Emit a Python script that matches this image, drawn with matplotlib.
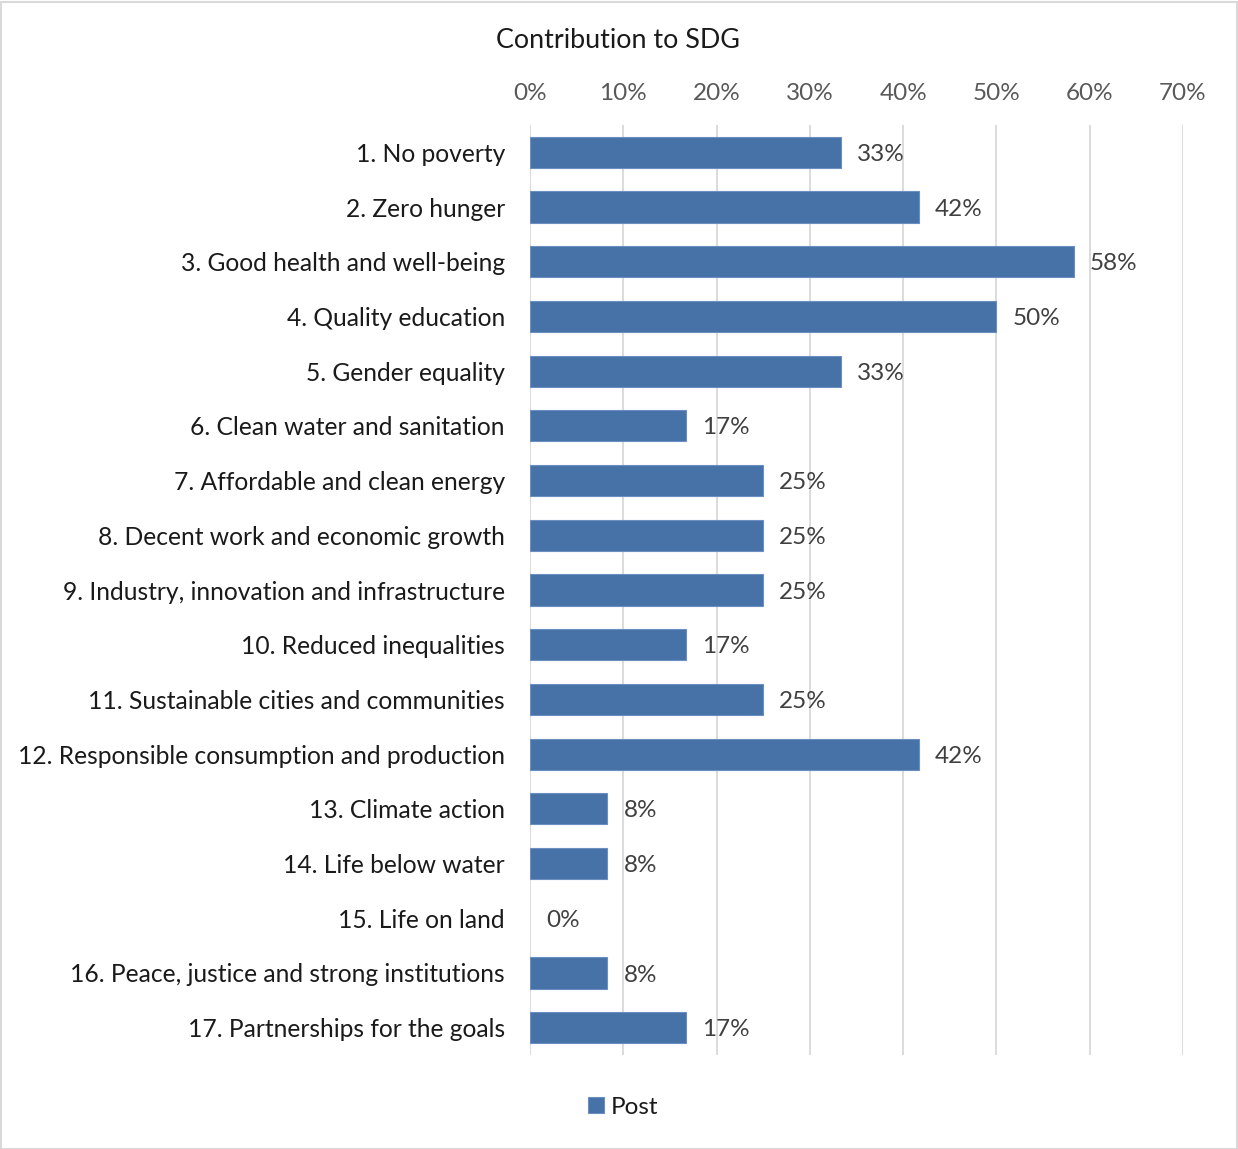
import matplotlib
matplotlib.use("Agg")
import matplotlib.pyplot as plt
from matplotlib.patches import Rectangle
from matplotlib.ticker import FuncFormatter, MultipleLocator

plt.rcParams['font.family'] = ['Lato', 'DejaVu Sans']

goals = [
    "1. No poverty",
    "2. Zero hunger",
    "3. Good health and well-being",
    "4. Quality education",
    "5. Gender equality",
    "6. Clean water and sanitation",
    "7. Affordable and clean energy",
    "8. Decent work and economic growth",
    "9. Industry, innovation and infrastructure",
    "10. Reduced inequalities",
    "11. Sustainable cities and communities",
    "12. Responsible consumption and production",
    "13. Climate action",
    "14. Life below water",
    "15. Life on land",
    "16. Peace, justice and strong institutions",
    "17. Partnerships for the goals",
]
post = [0.333, 0.417, 0.583, 0.500, 0.333, 0.167, 0.250, 0.250, 0.250,
        0.167, 0.250, 0.417, 0.083, 0.083, 0.000, 0.083, 0.167]
series_name = "Post"
title = "Contribution to SDG"

BAR = "#4672a8"
W, H, DPI = 1238, 1149, 100

fig = plt.figure(figsize=(W / DPI, H / DPI), dpi=DPI)
ax = fig.add_axes([530 / W, 1 - 1055 / H, (1183 - 530) / W, (1055 - 125) / H])

ypos = list(range(len(goals)))
bars = ax.barh(ypos, post, height=0.57, color=BAR, edgecolor="#6b8fc0",
               linewidth=[0.8 if v > 0 else 0 for v in post],
               label=series_name, zorder=3)

for y, v in zip(ypos, post):
    ax.annotate(f"{v:.0%}", xy=(v, y), xytext=(11.5, -1.5), textcoords="offset points",
                va="center", ha="left", fontsize=17.5, color="#404040", zorder=4)

ax.set_xlim(0, 0.70)
ax.set_ylim(len(goals) - 0.5, -0.5)
ax.xaxis.set_major_locator(MultipleLocator(0.10))
ax.xaxis.set_major_formatter(FuncFormatter(lambda x, _: f"{x:.0%}"))
ax.xaxis.tick_top()
ax.tick_params(axis="x", length=0, pad=15, labelsize=17.5, labelcolor="#595959")
ax.set_yticks(ypos)
ax.set_yticklabels(goals)
ax.tick_params(axis="y", length=0, pad=18, labelsize=17.7, labelcolor="#1a1a1a")
ax.grid(axis="x", color="#d9d9d9", linewidth=1.3, zorder=0)
for s in ax.spines.values():
    s.set_visible(False)

fig.text(618 / W, 1 - 40 / H, title, ha="center", va="center", fontsize=19.4, color="#1a1a1a")

leg = fig.legend(handles=[bars], labels=[series_name], loc="center",
                 bbox_to_anchor=(623 / W, 1 - 1107 / H), frameon=False,
                 fontsize=17.5, handlelength=0.65, handleheight=0.65, handletextpad=0.3)
for t in leg.get_texts():
    t.set_color("#1a1a1a")

fig.patches.append(Rectangle((0.5 / W, 0.5 / H), 1 - 2 / W, 1 - 2 / H,
                             transform=fig.transFigure, fill=False,
                             edgecolor="#d9d9d9", linewidth=1.5))

fig.savefig("out.png", dpi=DPI)
